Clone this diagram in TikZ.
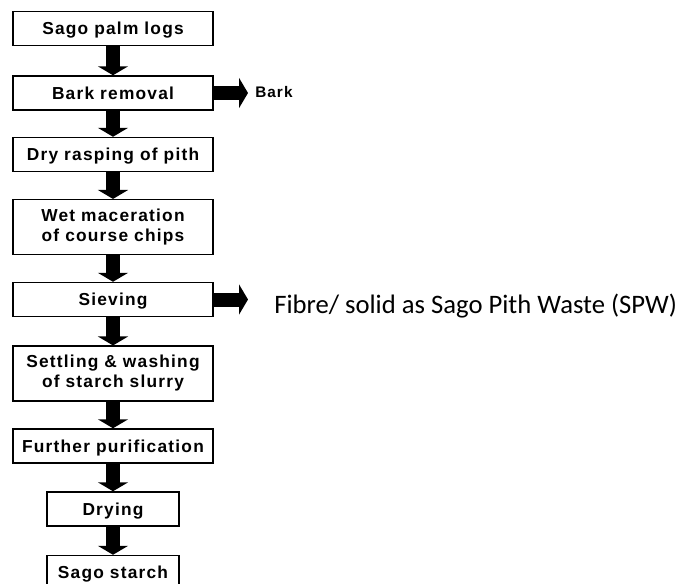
\documentclass[tikz,border=0pt]{standalone}
\usepackage{fontspec}
\setmainfont{Liberation Sans}
\newfontfamily\labelfont{Carlito}
\usetikzlibrary{arrows.meta}

\begin{document}
\begin{tikzpicture}[x=0.75pt, y=-0.75pt, every node/.style={
    rectangle,
    inner sep=0pt,
    font=\bfseries\fontsize{13}{15}\selectfont\addfontfeature{LetterSpace=7},
  }, box/.style={draw, line width=1.1pt, minimum width=150pt, minimum height=25.5pt, align=center},
  oneline/.style={text height=9.3pt, text depth=0pt},
  fat/.style={line width=10.5pt, -{Triangle[length=6.75pt, width=22.5pt]}}]

  \useasboundingbox (0,0) rectangle (682,583);

  \node[box, oneline] (n0) at (113,28.5) {Sago palm logs};
  \node[box, oneline, below of=n0, node distance=48.375pt] (n1) {Bark removal};
  \node[box, oneline, below of=n1, node distance=46.125pt] (n2) {Dry rasping of pith};
  \node[box, below of=n2, node distance=54.375pt, minimum height=41pt] (n3) {Wet maceration\\of course chips};
  \node[box, oneline, below of=n3, node distance=54.375pt] (n4) {Sieving};
  \node[box, below of=n4, node distance=55.5pt, minimum height=41pt] (n5) {Settling \& washing\\of starch slurry};
  \node[box, oneline, below of=n5, node distance=54.375pt] (n6) {Further purification};
  \node[box, oneline, below of=n6, node distance=47.25pt, minimum width=99pt] (n7) {Drying};
  \node[box, oneline, below of=n7, node distance=47.625pt, minimum width=99pt] (n8) {Sago starch};

  \draw[fat] (n0) -- (n1);
  \draw[fat] (n1) -- (n2);
  \draw[fat] (n2) -- (n3);
  \draw[fat] (n3) -- (n4);
  \draw[fat] (n4) -- (n5);
  \draw[fat] (n5) -- (n6);
  \draw[fat] (n6) -- (n7);
  \draw[fat] (n7) -- (n8);

  % side streams
  \node[anchor=base west, inner xsep=5.25pt, font=\bfseries\fontsize{11.5}{13}\selectfont\addfontfeature{LetterSpace=7}] (n9) at (248,97) {Bark};
  \node[anchor=base west, inner xsep=19.5pt, font=\labelfont\fontsize{20}{24}\selectfont] (n10) at (248,313) {Fibre/ solid as Sago Pith Waste (SPW)};

  \draw[fat] (n1.east) -- (n1.east -| n9.west);
  \draw[fat] (n4.east) -- (n4.east -| n10.west);

\end{tikzpicture}
\end{document}
